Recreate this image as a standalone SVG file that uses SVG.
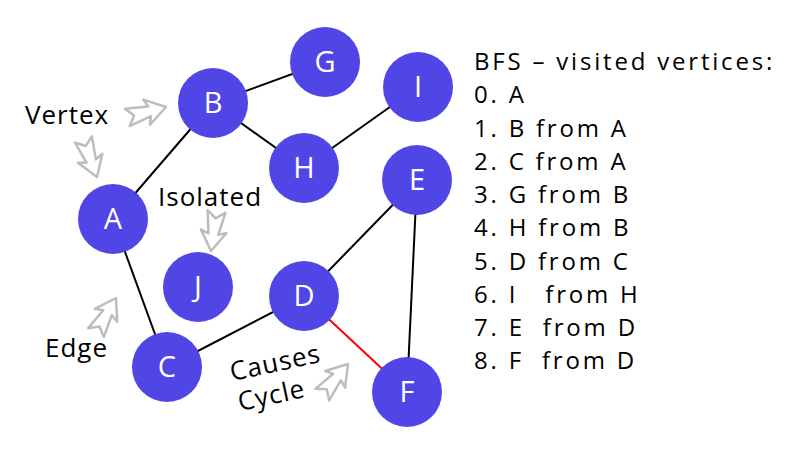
<svg xmlns="http://www.w3.org/2000/svg" width="800" height="463" viewBox="0 0 800 463">
<style>
.edge{stroke:#000;stroke-width:2;fill:none}
.cyc{stroke:#ff0000;stroke-width:2;fill:none}
.node circle{fill:#4f46e5}
.node text{fill:#fff;font-family:"Open Sans","Noto Sans",sans-serif;font-size:29px;text-anchor:middle}
.lbl{fill:#000;font-family:"Open Sans","Noto Sans",sans-serif;font-size:26px;letter-spacing:1px}
.list{fill:#000;font-family:"Open Sans","Noto Sans",sans-serif;font-size:24px;letter-spacing:2.8px;white-space:pre}
.ptr{fill:none;stroke:#bdbdbd;stroke-width:2.5;stroke-linejoin:round}
</style>
<defs>
<path id="arr" d="M0,0 L-20,-13 L-17,-5 L-40,-9 L-33,0 L-40,9 L-17,5 L-20,13 Z"/>
</defs>
<rect width="800" height="463" fill="#fff"/>
<g id="connectors">
<line class="edge" x1="113" y1="219" x2="213" y2="103"/>
<line class="edge" x1="113" y1="219" x2="167" y2="367"/>
<line class="edge" x1="213" y1="103" x2="325" y2="62"/>
<line class="edge" x1="213" y1="103" x2="304" y2="168"/>
<line class="edge" x1="304" y1="168" x2="418" y2="87"/>
<line class="edge" x1="167" y1="367" x2="304" y2="296"/>
<line class="edge" x1="304" y1="296" x2="417" y2="180"/>
<line class="edge" x1="417" y1="180" x2="407" y2="392"/>
<line class="cyc" x1="304" y1="296" x2="407" y2="392"/>
</g>
<g id="A" class="node"><circle cx="113" cy="219" r="35"/><text x="113" y="229">A</text></g>
<g id="B" class="node"><circle cx="213" cy="103" r="35"/><text x="213" y="113">B</text></g>
<g id="G" class="node"><circle cx="325" cy="62" r="35"/><text x="325" y="72">G</text></g>
<g id="H" class="node"><circle cx="304" cy="168" r="35"/><text x="304" y="178">H</text></g>
<g id="I" class="node"><circle cx="418" cy="87" r="35"/><text x="418" y="97">I</text></g>
<g id="E" class="node"><circle cx="417" cy="180" r="35"/><text x="417" y="190">E</text></g>
<g id="J" class="node"><circle cx="198" cy="287" r="35"/><text x="198" y="297">J</text></g>
<g id="D" class="node"><circle cx="304" cy="296" r="35"/><text x="304" y="306">D</text></g>
<g id="C" class="node"><circle cx="167" cy="367" r="35"/><text x="167" y="377">C</text></g>
<g id="F" class="node"><circle cx="407" cy="392" r="35"/><text x="407" y="402">F</text></g>
<g id="labels">
<text class="lbl" x="25" y="124">Vertex</text>
<text class="lbl" x="158" y="206">Isolated</text>
<text class="lbl" x="45" y="357">Edge</text>
<text class="lbl" transform="translate(232,381) rotate(-12)">Causes</text>
<text class="lbl" transform="translate(240,411) rotate(-12)">Cycle</text>
</g>
<g id="pointers">
<use href="#arr" class="ptr" transform="translate(166,107) rotate(-15)"/>
<use href="#arr" class="ptr" transform="translate(97,177) rotate(70)"/>
<use href="#arr" class="ptr" transform="translate(211,251) rotate(98)"/>
<use href="#arr" class="ptr" transform="translate(116,298) rotate(-60)"/>
<use href="#arr" class="ptr" transform="translate(348,364) rotate(-50)"/>
</g>
<g id="bfs-list">
<text class="list" x="474" y="70">BFS – visited vertices:</text>
<text class="list" x="474" y="103">0. A</text>
<text class="list" x="474" y="137">1. B from A</text>
<text class="list" x="474" y="170">2. C from A</text>
<text class="list" x="474" y="203">3. G from B</text>
<text class="list" x="474" y="236">4. H from B</text>
<text class="list" x="474" y="270">5. D from C</text>
<text class="list" x="474" y="303">6. I   from H</text>
<text class="list" x="474" y="336">7. E  from D</text>
<text class="list" x="474" y="369">8. F  from D</text>
</g>
</svg>
